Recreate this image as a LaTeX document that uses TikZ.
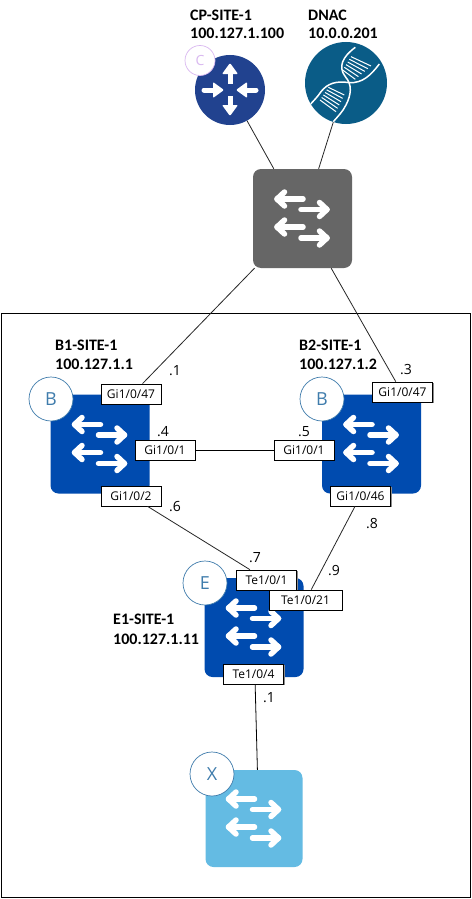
\documentclass[tikz,border=0pt]{standalone}
\usepackage{fontspec}
\setmainfont{Open Sans}
\newfontfamily\labelfont{Carlito}
\usetikzlibrary{shadows}
\definecolor{swblue}{HTML}{004BAF}
\definecolor{rtblue}{HTML}{21428F}
\definecolor{dnacblue}{HTML}{0A5C87}
\definecolor{coregray}{HTML}{666666}
\definecolor{skyblue}{HTML}{64BBE3}
\definecolor{badgeblue}{HTML}{3F7CAC}
\definecolor{badgepurple}{HTML}{D9B8F0}
\tikzset{
  switchbox/.style={rounded corners=8pt,minimum size=99pt,inner sep=0pt,fill=#1},
  badge/.style={circle,draw=badgeblue,line width=0.7pt,fill=white,minimum size=44pt,inner sep=0pt,text=badgeblue,font=\fontsize{18}{18}\selectfont},
  portbox/.style={draw=black,line width=0.8pt,fill=white,minimum height=20pt,inner sep=0pt,font=\fontsize{12}{12}\selectfont,
    general shadow={fill=black!45,shadow xshift=1pt,shadow yshift=-1pt}},
  sitelabel/.style={anchor=west,inner sep=0pt,font=\labelfont\bfseries\fontsize{16}{16}\selectfont},
  addr/.style={inner sep=0pt,font=\fontsize{14}{14}\selectfont},
  link/.style={draw=black!85,line width=0.8pt},
  arrowline/.style={draw=white,line width=5.5pt,line cap=round,line join=round},
  rung/.style={draw=white,line width=1pt},
  strand/.style={draw=white,line width=1.5pt}
}
\newcommand{\swarrows}[1]{%
  \begin{scope}[shift={(#1)}]
    \foreach \dy in {-19.5,8.5}{
      \draw[arrowline] (0.5,\dy) -- (-25.5,\dy);
      \draw[arrowline] (-18,\dy-7) -- (-25.5,\dy) -- (-18,\dy+7);
    }
    \foreach \dy in {-9,19.5}{
      \draw[arrowline] (-1.5,\dy) -- (24.5,\dy);
      \draw[arrowline] (17,\dy-7) -- (24.5,\dy) -- (17,\dy+7);
    }
  \end{scope}}
\begin{document}
\begin{tikzpicture}[x=1pt,y=-1pt]
\useasboundingbox (0,0) rectangle (471,899);
\fill[white] (0,0) rectangle (471,899);
\node[draw=black,line width=1pt,minimum width=469pt,minimum height=584pt,inner sep=0pt] (site) at (235.5,605) {};

% router
\node[circle,fill=rtblue,minimum size=70pt,inner sep=0pt] (router) at (230,90) {};
\begin{scope}[shift={(router.center)}]
  \draw[white,line width=5pt] (0,-17) -- (0,-6);
  \fill[white,rounded corners=1pt] (0,-27) -- (8,-16) -- (-8,-16) -- cycle;
  \draw[white,line width=5pt] (0,17) -- (0,6);
  \fill[white,rounded corners=1pt] (0,26) -- (8,15) -- (-8,15) -- cycle;
  \draw[white,line width=5pt,line cap=round] (-26,0) -- (-15,0);
  \fill[white,rounded corners=1pt] (-6,0) -- (-17,-8) -- (-17,8) -- cycle;
  \draw[white,line width=5pt,line cap=round] (26,0) -- (15,0);
  \fill[white,rounded corners=1pt] (6,0) -- (17,-8) -- (17,8) -- cycle;
\end{scope}
\node[badge,draw=badgepurple,text=badgepurple,minimum size=30pt,font=\fontsize{14}{14}\selectfont] (cbadge) at (200,60.5) {C};

% DNAC
\node[circle,fill=dnacblue,minimum size=82pt,inner sep=0pt] (dnac) at (346,83) {};
\begin{scope}
  \clip (dnac.center) circle (41pt);
  \begin{scope}[shift={(296,40)},x=0.3333pt,y=-0.3333pt]
    \foreach \t in {0,0.2,0.4,0.6,0.8,1}{
      \draw[rung] (165-25*\t,50+40*\t) -- (225-47*\t,78+40*\t);
      \draw[rung] (97-25*\t,142+38*\t) -- (145-25*\t,165+50*\t);
    }
    \draw[strand] (178,22) .. controls (140,50) and (125,80) .. (148,110) .. controls (170,135) and (165,165) .. (150,195) .. controls (140,215) and (125,230) .. (112,245);
    \draw[strand] (250,72) .. controls (225,105) and (200,130) .. (160,128) .. controls (120,122) and (95,130) .. (75,155) .. controls (65,170) and (55,180) .. (44,192);
  \end{scope}
\end{scope}

% switches
\node[switchbox=coregray] (core) at (302.5,218.5) {};
\swarrows{core.center}
\node[switchbox=swblue] (b1) at (100,444) {};
\swarrows{b1.center}
\node[switchbox=swblue] (b2) at (371.5,444) {};
\swarrows{b2.center}
\node[switchbox=swblue] (e1) at (254,627.5) {};
\swarrows{e1.center}
\node[switchbox=skyblue,minimum size=97pt] (x1) at (254,818.5) {};
\swarrows{x1.center}

% badges
\node[badge] (bb1) at (51,399) {B};
\node[badge] (bb2) at (322,399) {B};
\node[badge] (be1) at (205,583) {E};
\node[badge] (bx1) at (212,774) {X};

% ports
\node[portbox,minimum width=60pt] (p1a) at (131,394) {Gi1/0/47};
\node[portbox,minimum width=60pt] (p1b) at (165,450) {Gi1/0/1};
\node[portbox,minimum width=60pt] (p1c) at (131,496) {Gi1/0/2};
\node[portbox,minimum width=60pt] (p2a) at (402.5,392) {Gi1/0/47};
\node[portbox,minimum width=60pt] (p2b) at (304,450) {Gi1/0/1};
\node[portbox,minimum width=60pt] (p2c) at (360.5,496) {Gi1/0/46};
\node[portbox,minimum width=60pt] (e1a) at (266.5,580) {Te1/0/1};
\node[portbox,minimum width=73pt] (e1b) at (305.5,600) {Te1/0/21};
\node[portbox,minimum width=60pt] (e1c) at (253.5,674) {Te1/0/4};

% connectors
\draw[link] (router.-61) -- (core.120);
\draw[link] (dnac.-108) -- (core.72.6);
\draw[link] (core.-134.4) -- (p1a.42.3);
\draw[link] (core.-60) -- (p2a.123);
\draw[link,draw=black] (p1b.east) -- (p2b.west);
\draw[link] (p1c.-32) -- (e1a.148.8);
\draw[link] (p2c.-118.8) -- (e1b.61.2);
\draw[link,draw=black] (e1c.-81.5) -- (x1.86.5);

% names
\node[sitelabel] (n1) at (190,15) {CP-SITE-1};
\node[sitelabel] (n2) at (190,33) {100.127.1.100};
\node[sitelabel] (n3) at (308,15) {DNAC};
\node[sitelabel] (n4) at (308,33) {10.0.0.201};
\node[sitelabel] (n5) at (55,345) {B1-SITE-1};
\node[sitelabel] (n6) at (55,364) {100.127.1.1};
\node[sitelabel] (n7) at (299,345) {B2-SITE-1};
\node[sitelabel] (n8) at (299,364) {100.127.1.2};
\node[sitelabel] (n9) at (113,619) {E1-SITE-1};
\node[sitelabel] (n10) at (113,639) {100.127.1.11};

% addresses
\node[addr] (a1) at (175,370.5) {.1};
\node[addr] (a2) at (163,432) {.4};
\node[addr] (a3) at (175,507) {.6};
\node[addr] (a4) at (406,370) {.3};
\node[addr] (a5) at (304,432) {.5};
\node[addr] (a6) at (372,524) {.8};
\node[addr] (a7) at (255,558) {.7};
\node[addr] (a8) at (334,571) {.9};
\node[addr] (a9) at (269,698) {.1};
\end{tikzpicture}
\end{document}
